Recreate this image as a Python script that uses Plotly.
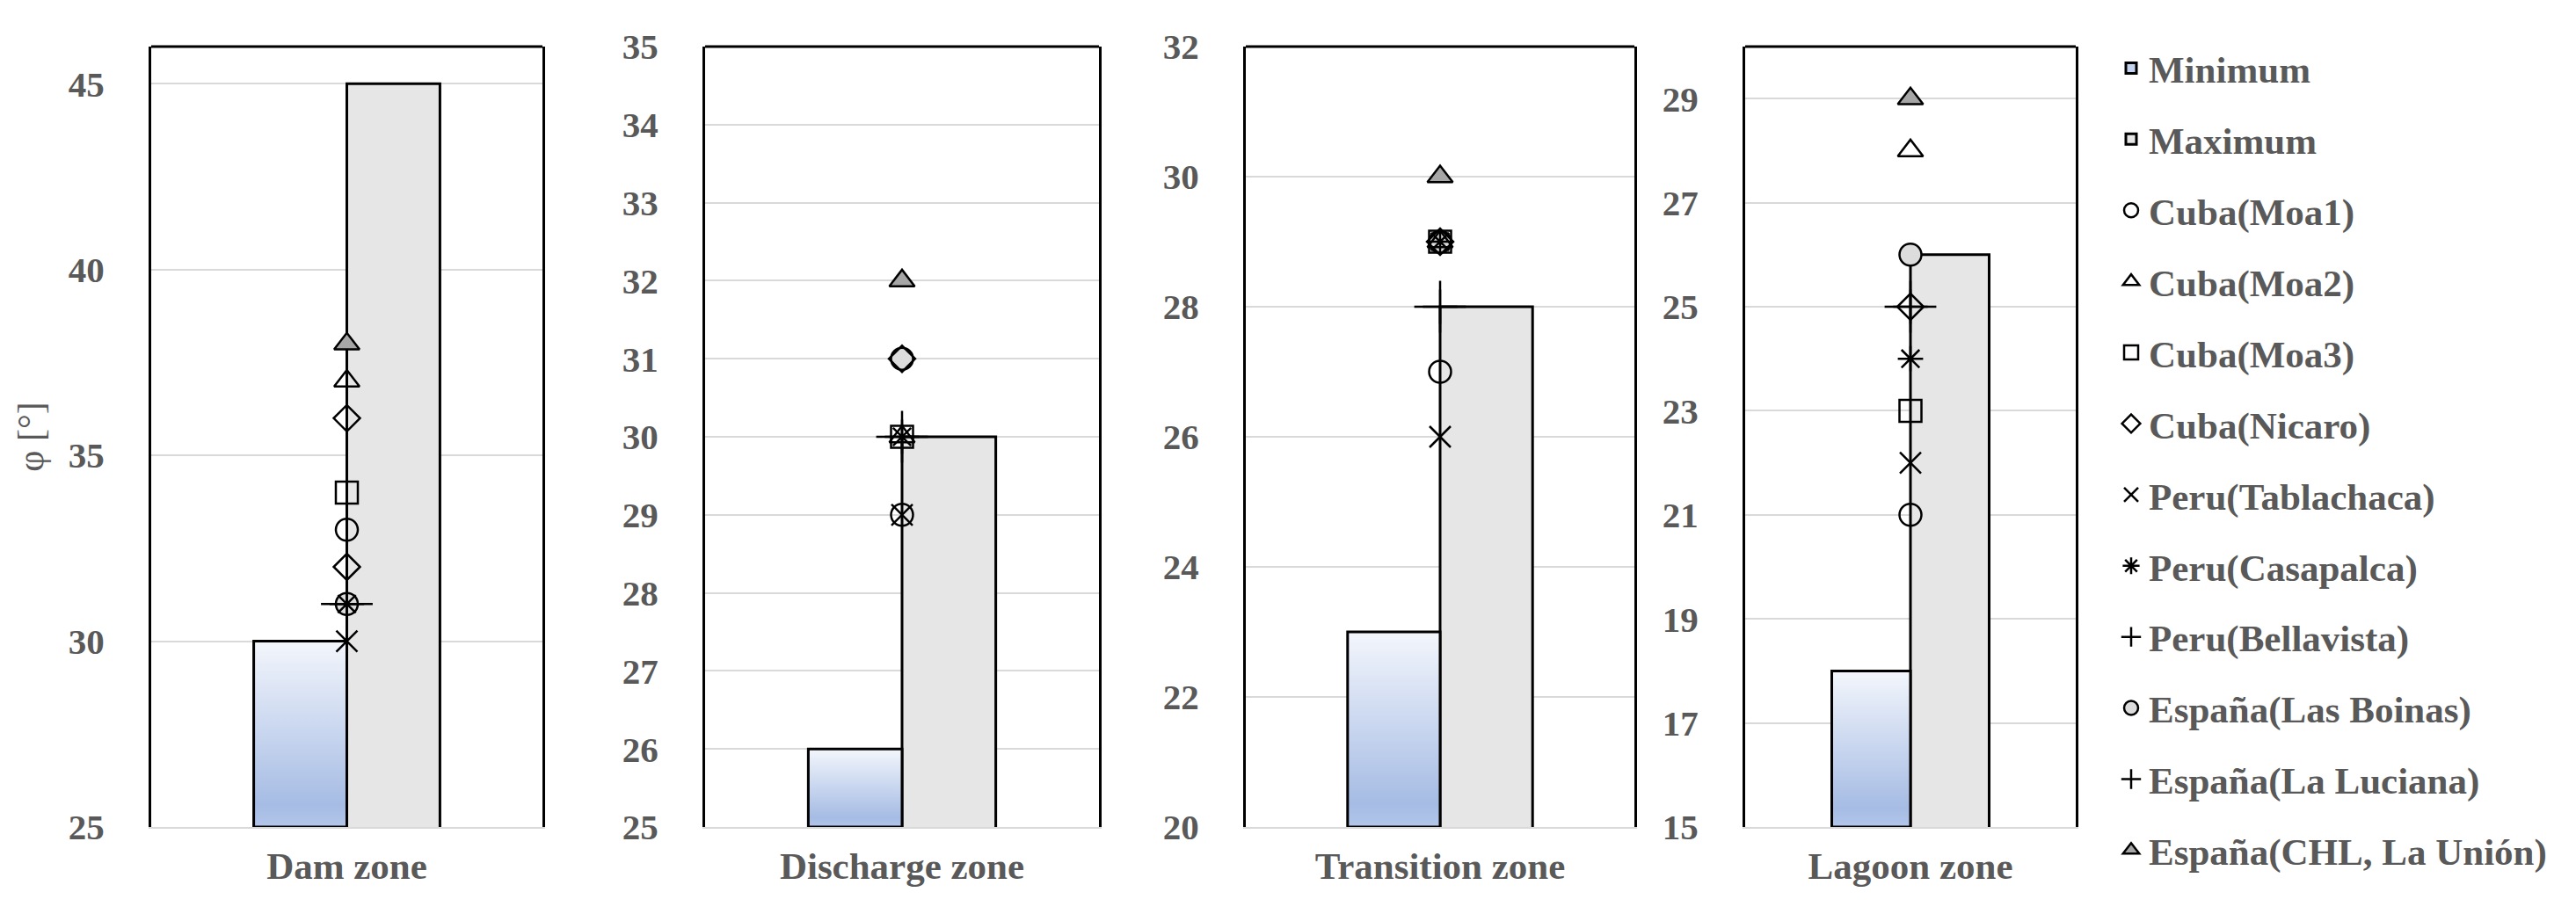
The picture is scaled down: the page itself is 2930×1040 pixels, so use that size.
import plotly.graph_objects as go

# ---------------- data ----------------
zones = ["Dam zone", "Discharge zone", "Transition zone", "Lagoon zone"]
minimum = [30, 26, 23, 18]
maximum = [45, 30, 28, 26]

# values per zone (a zone may hold several readings)
cuba_moa1 = [[33], [29], [27], [21]]
cuba_moa2 = [[37], [30], [29], [28]]
cuba_moa3 = [[34], [30], [29], [23]]
cuba_nicaro = [[36, 32], [31], [29], [25]]
peru_tablachaca = [[30], [29], [26], [22]]
peru_casapalca = [[31], [30], [29], [24]]
peru_bellavista = [[31], [30], [28], [25]]
espana_las_boinas = [[31], [31], [29], [26]]
espana_la_luciana = [[31], [30], [28], [25]]
espana_chl_la_union = [[38], [32], [30], [29]]

y_ranges = [[25, 46], [25, 35], [20, 32], [15, 30]]
y_dtick = [5, 1, 2, 2]

# ---------------- style ----------------
FONT = "Liberation Serif"
GRAY = "#595959"
BW = 0.238
x_domains = [[164 / 2930, 609 / 2930], [794 / 2930, 1242 / 2930],
             [1409 / 2930, 1851 / 2930], [1977 / 2930, 2353 / 2930]]
y_domain = [1 - 933 / 1040, 1 - 45 / 1040]

LW = 2.5
series = [
    ("Cuba(Moa1)", cuba_moa1, dict(symbol="circle-open", size=25, color="black", line=dict(width=LW, color="black"))),
    ("Cuba(Moa2)", cuba_moa2, dict(symbol="triangle-up-open", size=25, color="black", line=dict(width=LW, color="black"))),
    ("Cuba(Moa3)", cuba_moa3, dict(symbol="square-open", size=25, color="black", line=dict(width=LW, color="black"))),
    ("Cuba(Nicaro)", cuba_nicaro, dict(symbol="diamond-open", size=23, color="black", line=dict(width=LW, color="black"))),
    ("Peru(Tablachaca)", peru_tablachaca, dict(symbol="x-thin-open", size=24, color="black", line=dict(width=LW, color="black"))),
    ("Peru(Casapalca)", peru_casapalca, dict(symbol="asterisk-open", size=24, color="black", line=dict(width=LW, color="black"))),
    ("Peru(Bellavista)", peru_bellavista, dict(symbol="cross-thin-open", size=28, color="black", line=dict(width=LW, color="black"))),
    ("España(Las Boinas)", espana_las_boinas, dict(symbol="circle", size=25, color="#dcdcdc", line=dict(width=LW, color="black"))),
    ("España(La Luciana)", espana_la_luciana, dict(symbol="cross-thin-open", size=42, color="black", line=dict(width=LW, color="black"))),
    ("España(CHL, La Unión)", espana_chl_la_union, dict(symbol="triangle-up", size=25, color="#a6a6a6", line=dict(width=LW, color="black"))),
]
# filled markers are drawn underneath the open ones; legend order kept via legendrank
draw_order = [7, 9, 0, 1, 2, 3, 4, 5, 6, 8]

fig = go.Figure()
layout = dict()
for i, zone in enumerate(zones):
    sfx = "" if i == 0 else str(i + 1)
    xa, ya = "x" + sfx, "y" + sfx
    lo = y_ranges[i][0]
    # minimum bar (gradient fill)
    fig.add_trace(go.Scatter(
        x=[-BW, 0, 0, -BW, -BW], y=[lo, lo, minimum[i], minimum[i], lo],
        mode="lines", fill="toself",
        fillgradient=dict(type="vertical",
                          colorscale=[[0, "#b3c6ea"], [0.12, "#a6bce4"], [1, "#f3f6fc"]],
                          start=lo, stop=minimum[i]),
        line=dict(color="black", width=3), showlegend=False, hoverinfo="skip",
        xaxis=xa, yaxis=ya))
    if i == 0:
        fig.add_trace(go.Bar(x=[None], y=[None], name="Minimum", legendgroup="Minimum",
                             legendrank=1,
                             marker=dict(color="#c3d2ee", line=dict(color="black", width=3)),
                             xaxis=xa, yaxis=ya))
    fig.add_trace(go.Bar(
        x=[0], y=[maximum[i]], width=BW, offset=0, name="Maximum", legendgroup="Maximum",
        legendrank=2,
        marker=dict(color="#e7e6e6", line=dict(color="black", width=3)),
        showlegend=(i == 0), xaxis=xa, yaxis=ya))
    for k in draw_order:
        name, vals, mk = series[k]
        yv = vals[i]
        fig.add_trace(go.Scatter(
            x=[0] * len(yv), y=yv, mode="markers", name=name, legendgroup=name,
            legendrank=10 + k,
            marker=mk, showlegend=(i == 0), xaxis=xa, yaxis=ya))

    layout["xaxis" + sfx] = dict(
        domain=x_domains[i], anchor=ya, range=[-0.5, 0.5],
        tickmode="array", tickvals=[0], ticktext=[zone],
        tickfont=dict(family=FONT, size=43, color=GRAY, weight="bold"),
        ticks="", ticklabelstandoff=5, showgrid=False, zeroline=False,
        showline=True, linecolor="#d9d9d9", linewidth=2, automargin=False)
    layout["yaxis" + sfx] = dict(
        domain=y_domain, anchor=xa, range=y_ranges[i], dtick=y_dtick[i], tick0=y_ranges[i][0],
        tickfont=dict(family=FONT, size=41, color=GRAY, weight="bold"),
        ticks="", ticklabelstandoff=42, showgrid=True, gridcolor="#d9d9d9", gridwidth=2,
        zeroline=False, showline=True, linecolor="black", linewidth=3, mirror=True,
        automargin=False)
    layout.setdefault("shapes", []).append(dict(
        type="line", xref=xa + " domain", yref=ya + " domain", x0=0, x1=1, y0=1, y1=1,
        line=dict(color="black", width=3)))

layout["yaxis"]["title"] = dict(text="φ [°]", standoff=16,
                                font=dict(family=FONT, size=42, color=GRAY))

fig.update_layout(
    **layout,
    width=2930, height=1040,
    margin=dict(l=0, r=0, t=0, b=0),
    paper_bgcolor="white", plot_bgcolor="white",
    barmode="overlay",
    showlegend=True,
    legend=dict(x=2396 / 2930, xanchor="left", y=1 - 35 / 1040, yanchor="top",
                font=dict(family=FONT, size=43, color=GRAY, weight="bold"),
                tracegroupgap=22, bgcolor="rgba(0,0,0,0)", traceorder="grouped"),
)

fig.write_html("out.html")
